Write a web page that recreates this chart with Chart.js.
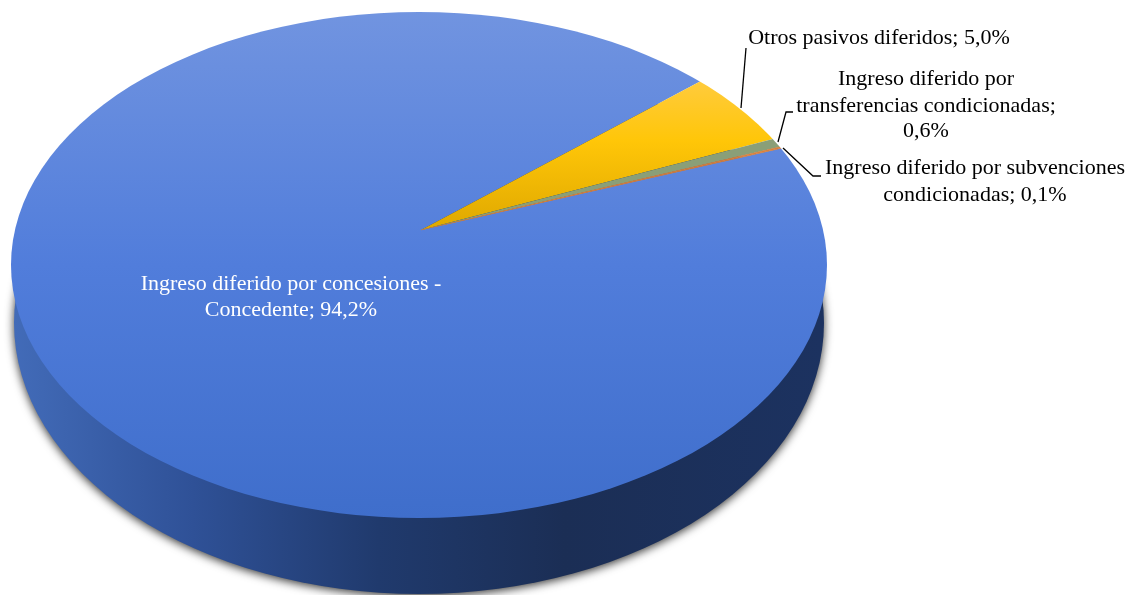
<!DOCTYPE html>
<html>
<head>
<meta charset="utf-8">
<style>html,body{margin:0;padding:0;background:#fff;overflow:hidden}canvas{display:block}</style>
<script src="https://cdn.jsdelivr.net/npm/chart.js@4"></script>
</head>
<body>
<canvas id="c" width="1128" height="595"></canvas>
<script>
const categories = ['Ingreso diferido por concesiones - Concedente','Otros pasivos diferidos','Ingreso diferido por transferencias condicionadas','Ingreso diferido por subvenciones condicionadas'];
const values = [94.2,5.0,0.6,0.1];
const labelLines = [
  ['Ingreso diferido por concesiones -','Concedente; 94,2%'],
  ['Otros pasivos diferidos; 5,0%'],
  ['Ingreso diferido por','transferencias condicionadas;','0,6%'],
  ['Ingreso diferido por subvenciones','condicionadas; 0,1%']
];

const W=1128,H=595;
const apex={x:421,y:230}, k=1.7, s=0.62;
const top3d={x:419,y:265,rx:408,ry:253};
const bot3d={x:419,y:323,rx:405,ry:271};
const toChartY=y=>H/2+(y-apex.y)/(k*s);
function vGrad(c,y0,y1,stops){
  const g=c.chart.ctx.createLinearGradient(0,toChartY(y0),0,toChartY(y1));
  stops.forEach(([p,col])=>g.addColorStop(p,col));
  return g;
}
const fills=[
  c=>vGrad(c,12,518,[[0,'#7194e0'],[.5,'#517ddb'],[1,'#3f6ecb']]),
  c=>vGrad(c,82,230,[[0,'#ffcb3c'],[.4,'#ffc608'],[1,'#dfa800']]),
  ()=>'#8a9f78',
  ()=>'#d6803f'
];
const labelPos=[
  {x:291,y:[284,310],color:'#ffffff'},
  {x:879,y:[38],color:'#000000'},
  {x:926,y:[79,106,131],color:'#000000'},
  {x:975,y:[168,195],color:'#000000'}
];
const leaders=[
  [[741,108],[746,48]],
  [[778,142],[786,112],[793,112]],
  [[783,148],[813,176],[821,176]]
];

const solid={
  id:'solid',
  beforeDatasetsDraw(chart){
    const ctx=chart.ctx;
    ctx.save();
    const g=ctx.createLinearGradient(15,0,823,0);
    g.addColorStop(0,'#426bb8');
    g.addColorStop(.22,'#2f5197');
    g.addColorStop(.45,'#203a6d');
    g.addColorStop(.68,'#1b2e55');
    g.addColorStop(1,'#1c3260');
    ctx.shadowColor='rgba(0,0,0,.8)';
    ctx.shadowBlur=10;
    ctx.shadowOffsetX=0;
    ctx.shadowOffsetY=2;
    ctx.fillStyle=g;
    ctx.beginPath();
    ctx.ellipse(bot3d.x,bot3d.y,bot3d.rx,bot3d.ry,0,0,Math.PI*2);
    ctx.fill();
    ctx.restore();
    ctx.save();
    ctx.beginPath();
    ctx.ellipse(top3d.x,top3d.y,top3d.rx,top3d.ry,0,0,Math.PI*2);
    ctx.clip();
    ctx.translate(apex.x,apex.y);
    ctx.scale(k,k*s);
    ctx.translate(-W/2,-H/2);
  },
  afterDatasetsDraw(chart){
    chart.ctx.restore();
  },
  afterDraw(chart){
    const ctx=chart.ctx;
    ctx.save();
    ctx.strokeStyle='#000';
    ctx.lineWidth=1.3;
    leaders.forEach(l=>{
      ctx.beginPath();
      l.forEach(([x,y],i)=>i?ctx.lineTo(x,y):ctx.moveTo(x,y));
      ctx.stroke();
    });
    ctx.font='22px "Liberation Serif"';
    ctx.textAlign='center';
    ctx.textBaseline='middle';
    labelLines.forEach((lines,i)=>{
      ctx.fillStyle=labelPos[i].color;
      lines.forEach((t,j)=>ctx.fillText(t,labelPos[i].x,labelPos[i].y[j]));
    });
    ctx.restore();
  }
};

new Chart(document.getElementById('c'),{
  type:'pie',
  data:{labels:categories,datasets:[{
    data:values,
    backgroundColor:c=>fills[c.dataIndex](c),
    borderColor:'#d6803f',
    borderWidth:c=>c.dataIndex===3?0.7:0
  }]},
  options:{
    responsive:false,animation:false,
    rotation:49.35-values[0]/values.reduce((a,b)=>a+b,0)*360,
    layout:{padding:0},
    plugins:{legend:{display:false},tooltip:{enabled:false}}
  },
  plugins:[solid]
});
</script>
</body>
</html>
